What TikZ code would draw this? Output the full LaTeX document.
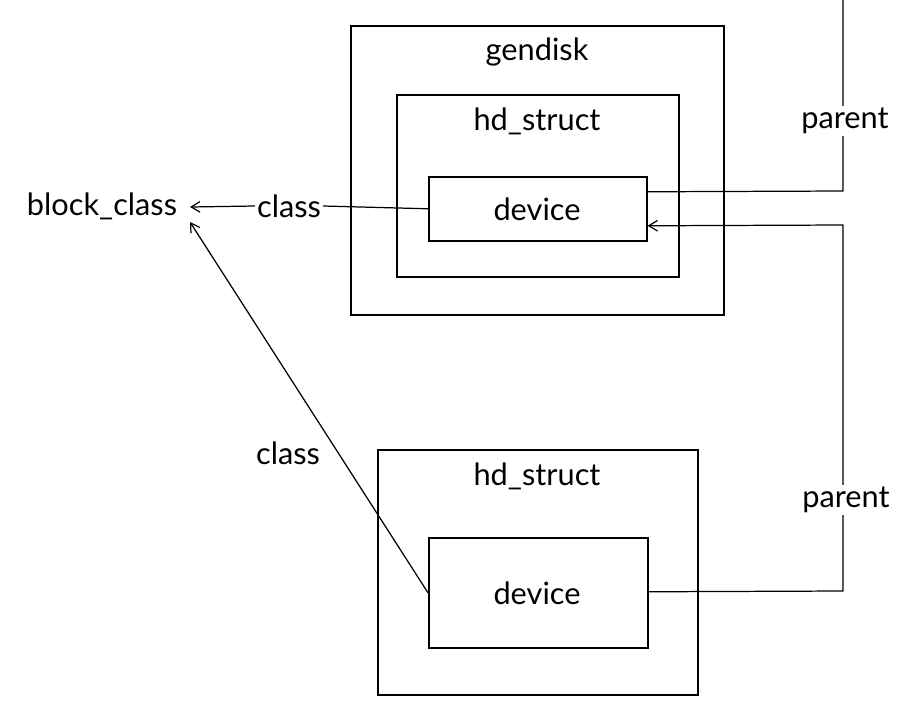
\documentclass[tikz,border=0pt]{standalone}
\usepackage{fontspec}
\setmainfont{Lato}
\usetikzlibrary{arrows.meta,calc}
\begin{document}
\begin{tikzpicture}[x=0.02cm,y=-0.02cm,
  box/.style={draw,line width=0.9pt,inner sep=0pt,anchor=north west},
  lbl/.style={font=\fontsize{17.5}{20}\selectfont,inner sep=1pt},
  conn/.style={line width=0.7pt},
  arr/.style={conn,-{Straight Barb[open,length=5pt,width=6pt]}}]
\useasboundingbox (0,0) rectangle (919,717);
% top structure
\node[box,minimum width=7.46cm,minimum height=5.78cm] (gd) at (350,25) {};
\node[lbl] (gdl) at (537,52) {gendisk};
\node[box,minimum width=5.64cm,minimum height=3.64cm] (hdT) at (396,94) {};
\node[lbl] (hdTl) at (537,121) {hd\_struct};
\node[box,minimum width=4.36cm,minimum height=1.28cm] (devT) at (428,176) {};
\node[lbl] (devTl) at (537,209) {device};
% bottom structure
\node[box,minimum width=6.4cm,minimum height=4.9cm] (hdB) at (377,449) {};
\node[lbl] (hdBl) at (537,476) {hd\_struct};
\node[box,minimum width=4.38cm,minimum height=2.2cm] (devB) at (428,537) {};
\node[lbl] (devBl) at (537,593) {device};
% left labels
\node[lbl] (bc) at (102,206) {block\_class};
\node[lbl] (c1) at (289,206) {class};
\node[lbl] (c2) at (288,453) {class};
\coordinate (bcA) at (190,207);
\coordinate (bcB) at (190,222);
\draw[conn] (devT.west) -- (c1.east);
\draw[arr] (c1.west) -- (bcA);
\draw[arr] (devB.west) -- (bcB);
% parent connectors
\coordinate (pTop) at (843,0);
\coordinate (pT1) at (843,191);
\coordinate (pB1) at (843,591);
\coordinate (pB2) at (843,225);
\draw[conn] ($(devT.east)+(0,-17)$) -- (pT1) -- (pTop);
\node[lbl,fill=white] (p1) at (845,121) {parent};
\draw[arr] ($(devB.east)+(0,-1)$) -- (pB1) -- (pB2) -- ($(devT.east)+(0,17)$);
\node[lbl,fill=white] (p2) at (846,500) {parent};
\end{tikzpicture}
\end{document}
